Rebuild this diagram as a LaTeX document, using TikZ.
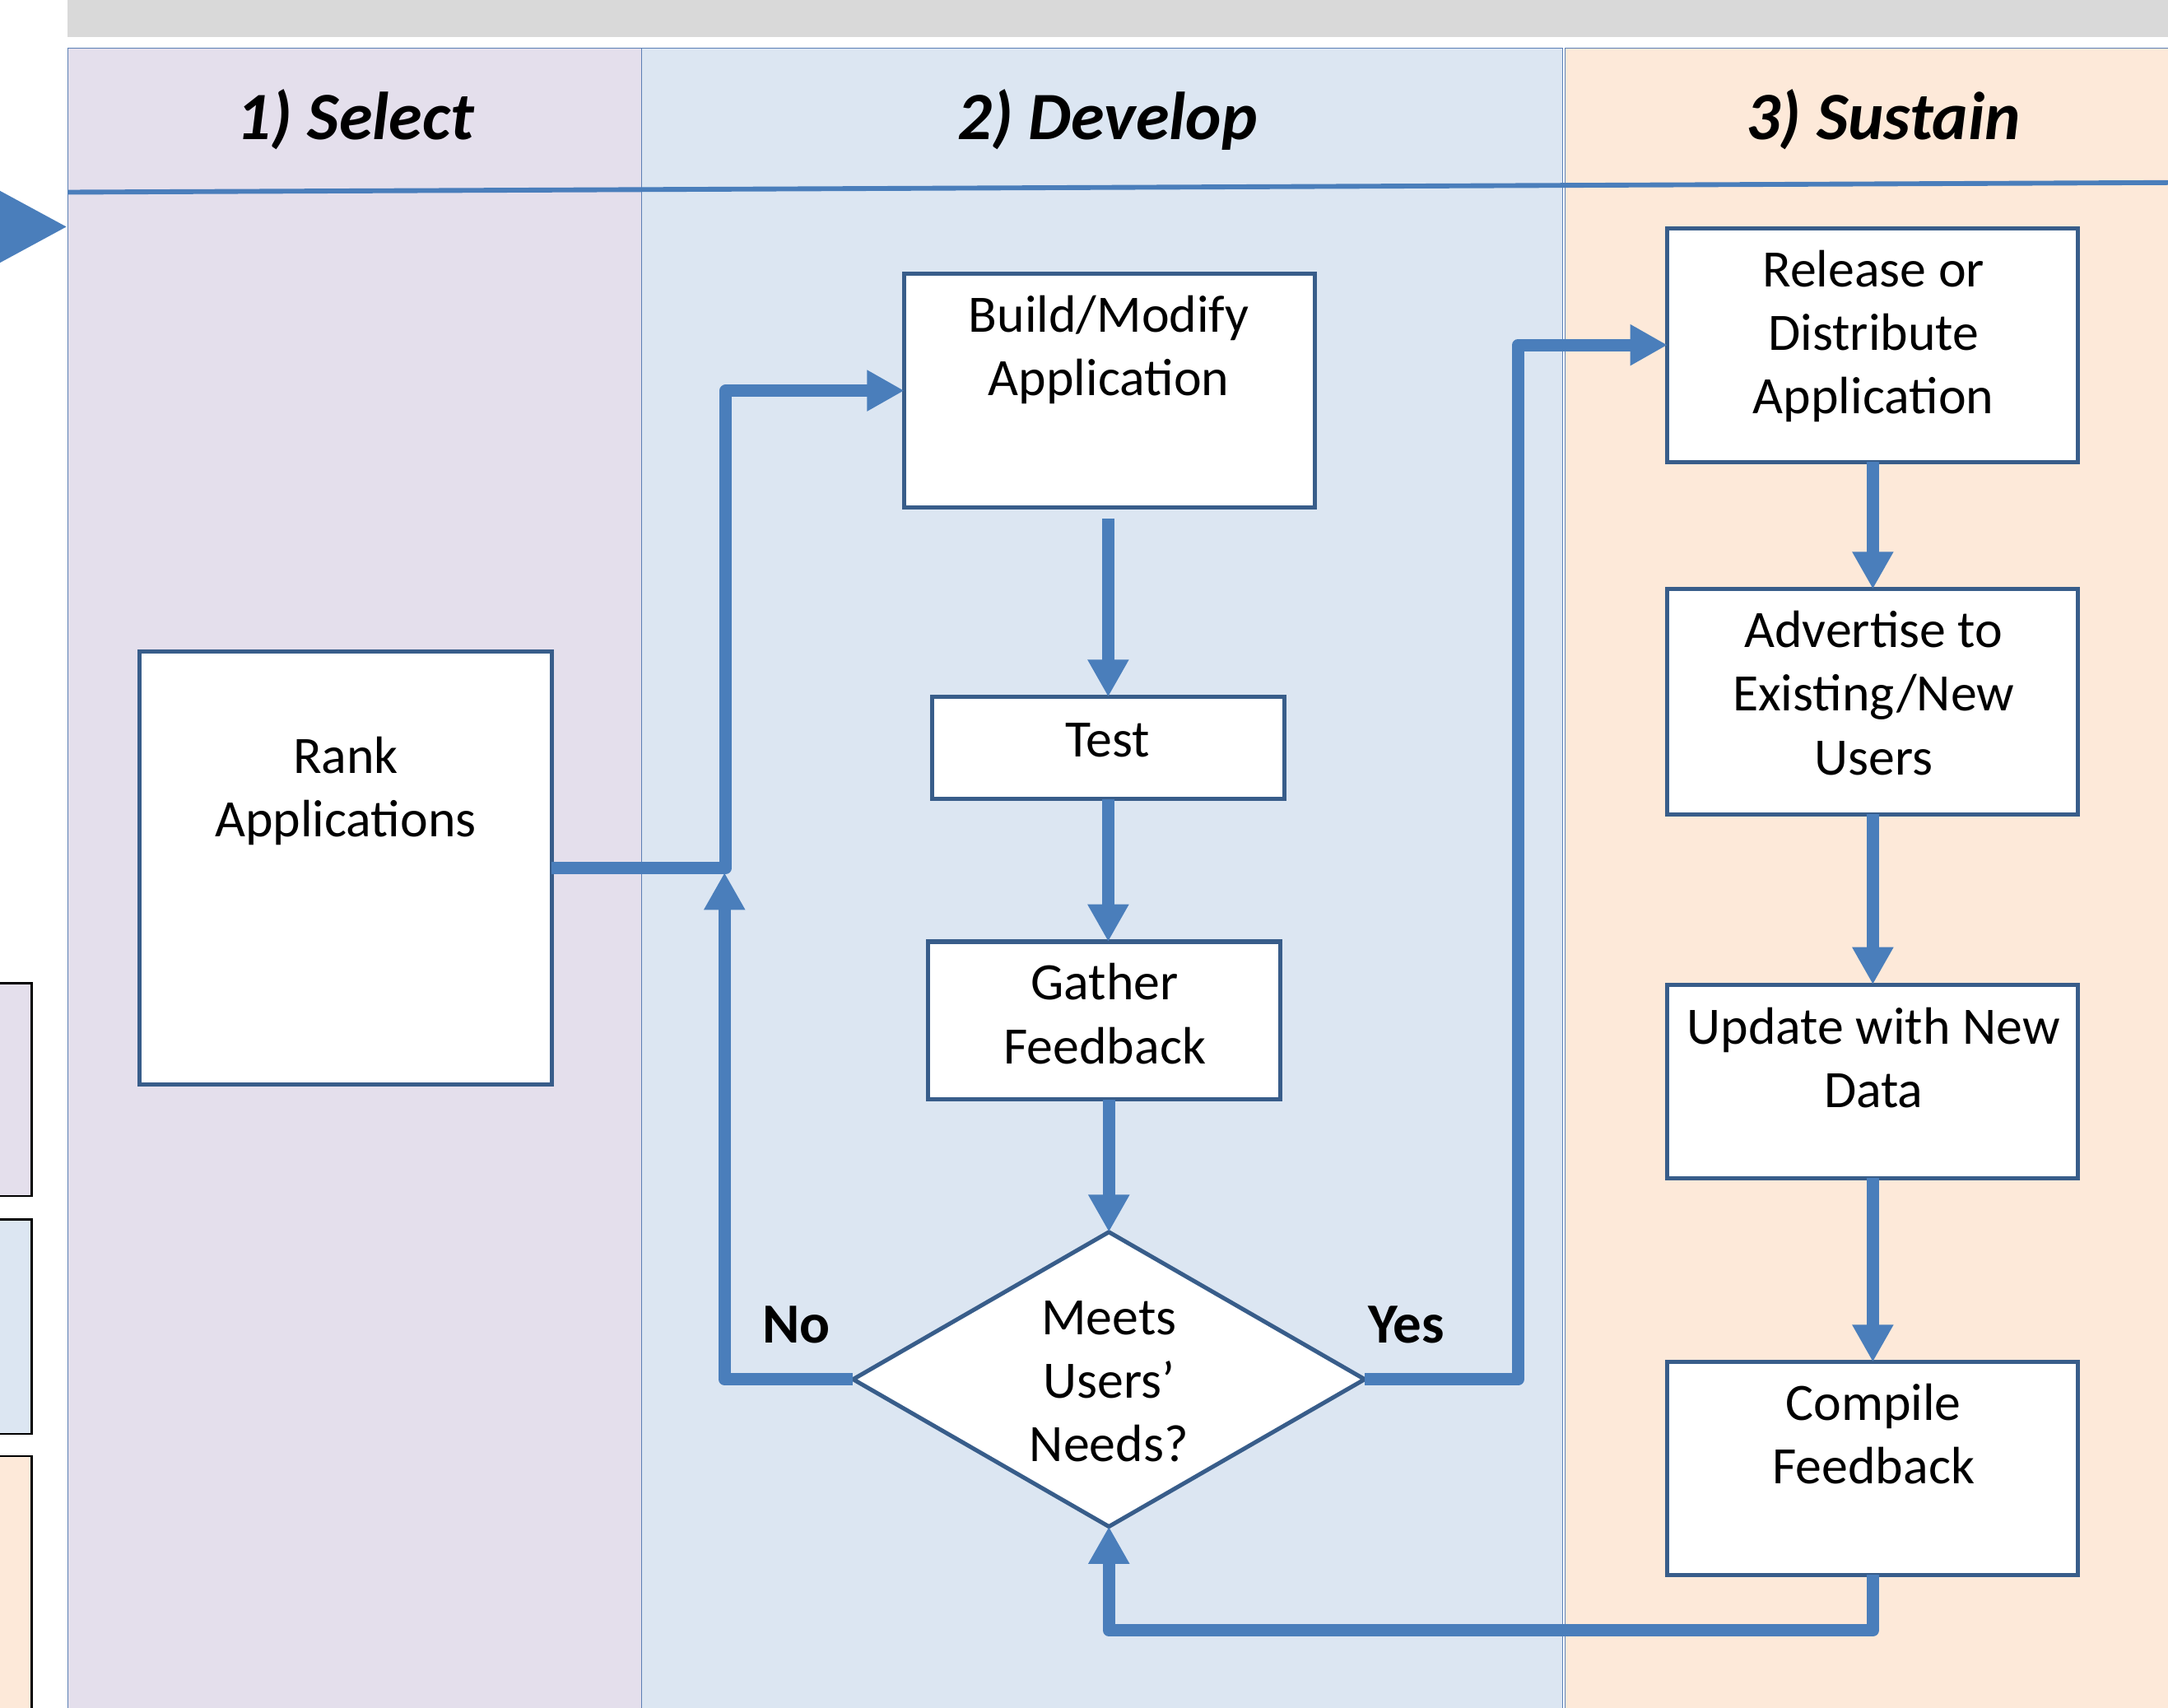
\documentclass[tikz,border=0pt]{standalone}
\usepackage{fontspec}
\setmainfont{Carlito}
\usetikzlibrary{arrows.meta,shapes.geometric}
\definecolor{lanea}{HTML}{E4DFEC}
\definecolor{laneb}{HTML}{DCE6F2}
\definecolor{lanec}{HTML}{FDE9D9}
\definecolor{barcol}{HTML}{D9D9D9}
\definecolor{arrowblue}{HTML}{4A7EBB}
\definecolor{boxblue}{HTML}{385D8A}
\definecolor{laneline}{HTML}{5B7FB5}
\begin{document}
\begin{tikzpicture}[x=1pt,y=-1pt,
  stepbox/.style={draw=boxblue, line width=3pt, fill=white, inner sep=0pt, outer sep=0pt, anchor=north west},
  boxtext/.style={anchor=north, align=center, inner sep=0pt, font=\fontsize{38}{46}\selectfont},
  flow/.style={draw=arrowblue, line width=9pt, line join=round, -{Triangle[length=27pt,width=28pt]}},
  lanebox/.style={draw=laneline, line width=0.8pt},
  header/.style={font=\fontsize{49}{58}\selectfont\bfseries\itshape, anchor=base, inner sep=0pt},
  yesno/.style={font=\fontsize{41}{49}\selectfont\bfseries, anchor=base, inner sep=0pt}
]
\useasboundingbox (0,0) rectangle (1568,1235);
% top bar
\fill[barcol] (49,0) rectangle (1575,27);
% lanes
\fill[lanea] (49,35) rectangle (464,1240);
\fill[laneb] (464,35) rectangle (1130,1240);
\fill[lanec] (1132,35) rectangle (1575,1240);
\draw[lanebox] (49,35) rectangle (464,1240);
\draw[lanebox] (464,35) rectangle (1130,1240);
\draw[lanebox] (1132,35) rectangle (1575,1240);
\draw[arrowblue, line width=3.5pt] (49,139) -- (1575,132);
% headers
\node[header] (h1) at (257,101) {1) Select};
\node[header] (h2) at (801,101) {2) Develop};
\node[header] (h3) at (1362,101) {3) Sustain};
% left pointer and side boxes
\fill[arrowblue] (0,138) -- (48,164) -- (0,190) -- cycle;
\draw[black, line width=1.5pt, fill=lanea] (-5,711) rectangle (23,865);
\draw[black, line width=1.5pt, fill=laneb] (-5,882) rectangle (23,1037);
\draw[black, line width=1.5pt, fill=lanec] (-5,1053) rectangle (23,1245);
% boxes
\node[stepbox, minimum width=298pt, minimum height=313pt] (rank) at (101,471) {};
\node[stepbox, minimum width=297pt, minimum height=169pt] (build) at (654,198) {};
\node[stepbox, minimum width=255pt, minimum height=74pt] (test) at (674,504) {};
\node[stepbox, minimum width=255pt, minimum height=114pt] (gather) at (671,681) {};
\node[draw=boxblue, line width=3pt, fill=white, shape=diamond, inner sep=0pt, outer sep=0pt,
      minimum width=370pt, minimum height=213pt] (dia) at (802,997.5) {};
\node[stepbox, minimum width=297pt, minimum height=169pt] (rel) at (1206,165) {};
\node[stepbox, minimum width=297pt, minimum height=163pt] (adv) at (1206,426) {};
\node[stepbox, minimum width=297pt, minimum height=140pt] (upd) at (1206,712) {};
\node[stepbox, minimum width=297pt, minimum height=154pt] (comp) at (1206,985) {};
% texts
\node[boxtext] (rank-t) at (250,526.8) {\strut Rank\\Applications};
\node[boxtext] (build-t) at (802,207.8) {\strut Build/Modify\\Application};
\node[boxtext] (test-t) at (801,514.8) {\strut Test};
\node[boxtext] (gather-t) at (799,690.8) {\strut Gather\\Feedback};
\node[boxtext] (dia-t) at (802,932.8) {\strut Meets\\Users’\\Needs?};
\node[boxtext] (rel-t) at (1355,174.8) {\strut Release or\\Distribute\\Application};
\node[boxtext] (adv-t) at (1355,435.8) {\strut Advertise to\\Existing/New\\Users};
\node[boxtext] (upd-t) at (1355,722.8) {\strut Update with New\\Data};
\node[boxtext] (comp-t) at (1355,994.8) {\strut Compile\\Feedback};
% labels
\node[yesno] (no) at (576,971) {No};
\node[yesno] (yes) at (1017,971) {Yes};
% connectors
\coordinate (j) at (525,627);
\coordinate (jn) at (524,631);
\coordinate (yc) at (1098,600);
\draw[flow] (rank.east) -- (rank.east -| j) -- (j |- build.west) -- (build.west);
\draw[flow] (dia.west) -- (dia.west -| jn) -- (jn);
\draw[flow] (dia.east) -- (dia.east -| yc) -- (yc |- rel.west) -- (rel.west);
\draw[flow] ([yshift=-8pt]test.north |- build.south) -- (test.north);
\draw[flow] (test.south) -- (test.south |- gather.north);
\draw[flow] (gather.south -| dia.north) -- (dia.north);
\draw[flow] (rel.south) -- (adv.north);
\draw[flow] (adv.south) -- (upd.north);
\draw[flow] (upd.south) -- (comp.north);
\draw[flow] (comp.south) -- ++(0,40) -| (dia.south);
\end{tikzpicture}
\end{document}
